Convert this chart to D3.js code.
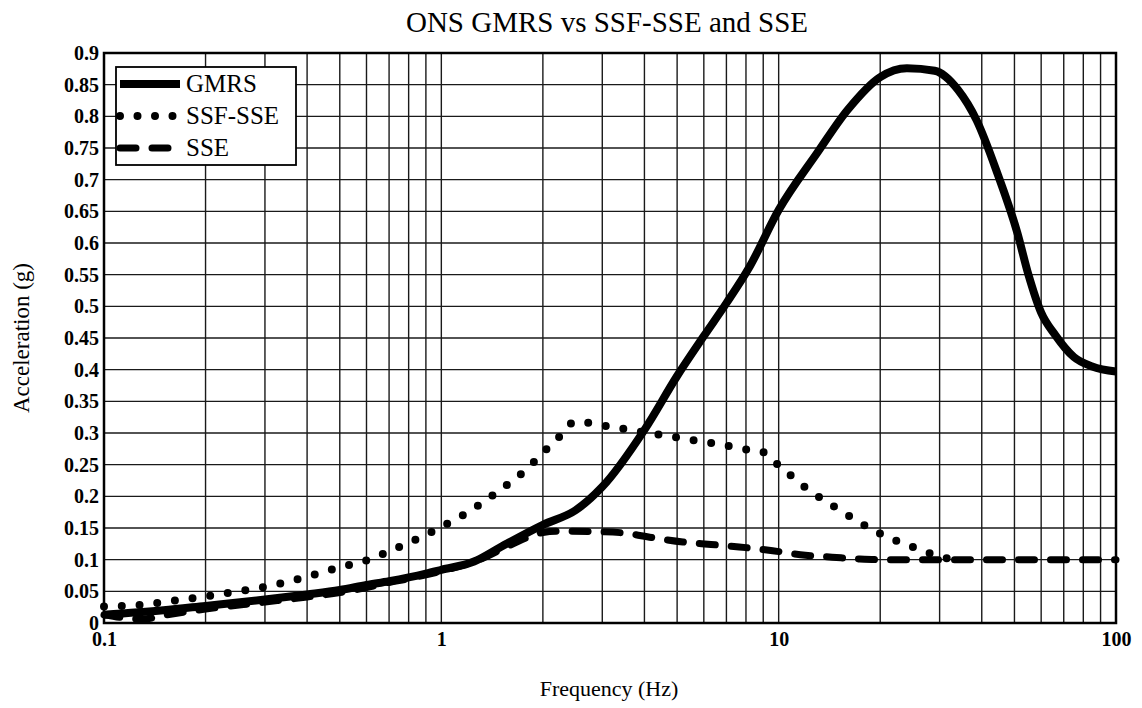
<!DOCTYPE html>
<html>
<head>
<meta charset="utf-8">
<script src="https://cdn.jsdelivr.net/npm/d3@7"></script>
<style>
  body { margin: 0; background: #fff; }
  svg { display: block; font-family: "Liberation Serif", "DejaVu Serif", serif; }
</style>
</head>
<body>
<div id="chart"></div>
<script>
// GMRS spectrum
const gmrsFreq = [0.1, 0.15, 0.2, 0.3, 0.4, 0.5, 0.6, 0.7, 0.8, 0.9, 1, 1.25, 1.5, 2, 2.5, 3, 4, 5, 6, 7, 8.2, 10, 13, 16, 20, 24, 29, 34, 38.6, 44.5, 51, 55, 60, 66, 75, 85, 100];
const gmrsAcc = [0.013, 0.02, 0.027, 0.037, 0.045, 0.052, 0.06, 0.066, 0.072, 0.078, 0.084, 0.097, 0.12, 0.155, 0.178, 0.215, 0.305, 0.39, 0.453, 0.505, 0.5625, 0.652, 0.742, 0.81, 0.862, 0.876, 0.872, 0.842, 0.794, 0.71, 0.616, 0.55, 0.49, 0.455, 0.42, 0.405, 0.397];

// SSF-SSE spectrum
const ssfFreq = [0.1, 0.13, 0.16, 0.2, 0.25, 0.3, 0.4, 0.5, 0.6, 0.7, 0.8, 0.9, 1, 1.2, 1.5, 1.8, 2, 2.2, 2.5, 3, 4, 5, 6, 7, 8, 8.8, 10, 12, 15, 20, 25, 30, 33];
const ssfAcc = [0.026, 0.029, 0.035, 0.042, 0.05, 0.057, 0.073, 0.088, 0.099, 0.113, 0.127, 0.139, 0.152, 0.175, 0.211, 0.244, 0.269, 0.29, 0.318, 0.312, 0.301, 0.293, 0.286, 0.28, 0.274, 0.272, 0.249, 0.214, 0.18, 0.141, 0.12, 0.105, 0.1];

// SSE spectrum
const sseFreq = [0.1, 0.12, 0.13, 0.15, 0.2, 0.3, 0.4, 0.5, 0.6, 0.7, 0.8, 1, 1.3, 1.6, 2, 2.2, 3, 3.5, 4.2, 5.2, 6.3, 8, 9.6, 12, 14.4, 17.4, 20, 100];
const sseAcc = [0.013, 0.007, 0.006, 0.012, 0.022, 0.033, 0.041, 0.048, 0.056, 0.064, 0.07, 0.082, 0.1, 0.123, 0.143, 0.145, 0.144, 0.142, 0.135, 0.128, 0.124, 0.119, 0.114, 0.107, 0.104, 0.101, 0.1, 0.1];

const seriesNames = ['GMRS', 'SSF-SSE', 'SSE'];
const xTickLabels = [0.1, 1, 10, 100];
const yTickValues = d3.range(0, 19).map(i => +(i * 0.05).toFixed(2));

const w = 1142;
const h = 708;
const margin = { top: 53, right: 26, bottom: 85, left: 104 };
const innerWidth = w - margin.left - margin.right;
const innerHeight = h - margin.top - margin.bottom;

const svg = d3.select('#chart')
    .append('svg')
    .attr('width', w)
    .attr('height', h);

const xScale = d3.scaleLog()
    .domain([0.1, 100])
    .range([0, innerWidth]);

const yScale = d3.scaleLinear()
    .domain([0, 0.9])
    .range([innerHeight, 0]);

const g = svg.append('g')
    .attr('transform', `translate(${margin.left},${margin.top})`);

// grid lines
g.append('g')
    .attr('class', 'grid')
    .selectAll('line.v')
    .data(xScale.ticks())
    .enter()
    .append('line')
    .attr('x1', d => xScale(d))
    .attr('x2', d => xScale(d))
    .attr('y1', 0)
    .attr('y2', innerHeight)
    .attr('stroke', '#1a1a1a')
    .attr('stroke-width', 1.4);

g.append('g')
    .attr('class', 'grid')
    .selectAll('line.h')
    .data(yTickValues)
    .enter()
    .append('line')
    .attr('x1', 0)
    .attr('x2', innerWidth)
    .attr('y1', d => yScale(d))
    .attr('y2', d => yScale(d))
    .attr('stroke', '#1a1a1a')
    .attr('stroke-width', 1.4);

// axes
const xAxisG = g.append('g')
    .attr('transform', `translate(0,${innerHeight})`)
    .call(d3.axisBottom(xScale).tickValues(xTickLabels).tickFormat(d => String(d)).tickSize(0).tickPadding(9));

const yAxisG = g.append('g')
    .call(d3.axisLeft(yScale).tickValues(yTickValues).tickFormat(d => String(d)).tickSize(0).tickPadding(5));

[xAxisG, yAxisG].forEach(a => {
    a.select('.domain').remove();
    a.selectAll('text')
        .attr('fill', '#000')
        .style('font-family', '"Liberation Serif", serif')
        .style('font-size', '20px')
        .style('font-weight', 'bold');
});

// curves
const line = d3.line()
    .x(d => xScale(d[0]))
    .y(d => yScale(d[1]))
    .curve(d3.curveMonotoneX);

const sseData = d3.zip(sseFreq, sseAcc);
const ssfData = d3.zip(ssfFreq, ssfAcc);
const gmrsData = d3.zip(gmrsFreq, gmrsAcc);

g.append('path')
    .datum(sseData)
    .attr('d', line)
    .attr('fill', 'none')
    .attr('stroke', '#000')
    .attr('stroke-width', 7)
    .attr('stroke-linecap', 'round')
    .attr('stroke-dasharray', '16 16');

g.append('path')
    .datum(ssfData)
    .attr('d', line)
    .attr('fill', 'none')
    .attr('stroke', '#000')
    .attr('stroke-width', 8)
    .attr('stroke-linecap', 'round')
    .attr('stroke-dasharray', '0 17.8');

g.append('path')
    .datum(gmrsData)
    .attr('d', line)
    .attr('fill', 'none')
    .attr('stroke', '#000')
    .attr('stroke-width', 8)
    .attr('stroke-linejoin', 'round');

// plot border
g.append('rect')
    .attr('width', innerWidth)
    .attr('height', innerHeight)
    .attr('fill', 'none')
    .attr('stroke', '#000')
    .attr('stroke-width', 2.5);

// legend
const legend = g.append('g')
    .attr('transform', 'translate(12,14)');

legend.append('rect')
    .attr('width', 180)
    .attr('height', 98)
    .attr('fill', '#fff')
    .attr('stroke', '#000')
    .attr('stroke-width', 1.8);

const legendStyles = [
    { width: 8, dash: null },
    { width: 8, dash: '0 17.5' },
    { width: 7, dash: '16 16' }
];

seriesNames.forEach((name, i) => {
    const ly = 17 + i * 32;
    legend.append('line')
        .attr('x1', 4)
        .attr('x2', i === 0 ? 64 : 60)
        .attr('y1', ly)
        .attr('y2', ly)
        .attr('stroke', '#000')
        .attr('stroke-width', legendStyles[i].width)
        .attr('stroke-linecap', i === 0 ? 'butt' : 'round')
        .attr('stroke-dasharray', legendStyles[i].dash);
    legend.append('text')
        .attr('x', 70)
        .attr('y', ly + 8)
        .text(name)
        .style('font-size', '25px')
        .attr('fill', '#000');
});

// title and axis labels
svg.append('text')
    .attr('x', 607)
    .attr('y', 32)
    .attr('text-anchor', 'middle')
    .style('font-size', '29px')
    .text('ONS GMRS vs SSF-SSE and SSE');

svg.append('text')
    .attr('x', 609)
    .attr('y', 696)
    .attr('text-anchor', 'middle')
    .style('font-size', '22px')
    .text('Frequency (Hz)');

svg.append('text')
    .attr('transform', 'translate(29,338) rotate(-90)')
    .attr('text-anchor', 'middle')
    .style('font-size', '23px')
    .text('Acceleration (g)');
</script>
</body>
</html>
